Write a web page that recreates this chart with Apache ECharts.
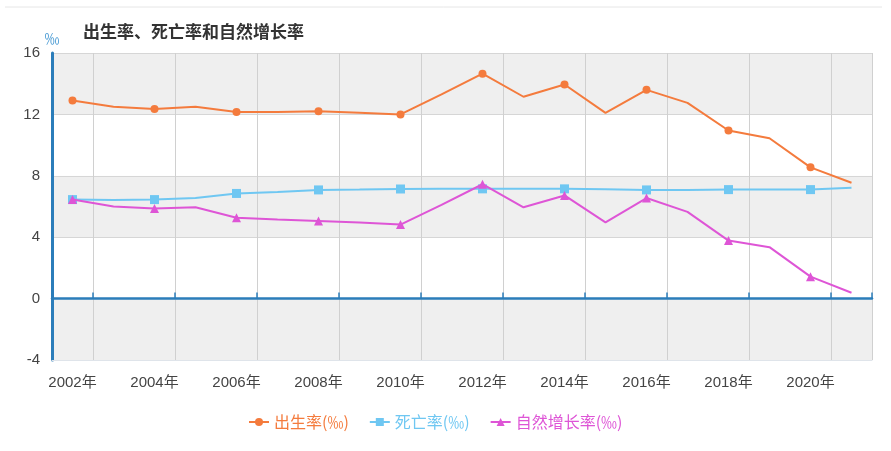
<!DOCTYPE html>
<html>
<head>
<meta charset="utf-8">
<script src="https://cdn.jsdelivr.net/npm/echarts@6/dist/echarts.min.js"></script>
<style>html,body{margin:0;padding:0;background:#fff}#c{width:891px;height:451px}</style>
</head>
<body>
<div id="c"></div>
<script>
const years = ['2002年','2003年','2004年','2005年','2006年','2007年','2008年','2009年','2010年','2011年','2012年','2013年','2014年','2015年','2016年','2017年','2018年','2019年','2020年','2021年'];
const birthRate = [12.9, 12.5, 12.35, 12.5, 12.15, 12.15, 12.2, 12.1, 12.0, 13.3, 14.65, 13.15, 13.95, 12.1, 13.6, 12.75, 10.95, 10.45, 8.55, 7.55];
const deathRate = [6.45, 6.42, 6.45, 6.55, 6.85, 6.95, 7.08, 7.1, 7.14, 7.15, 7.15, 7.15, 7.15, 7.12, 7.08, 7.08, 7.1, 7.1, 7.1, 7.22];
const naturalRate = [6.45, 6.0, 5.87, 5.95, 5.27, 5.15, 5.05, 4.95, 4.82, 6.1, 7.45, 5.95, 6.72, 4.97, 6.55, 5.65, 3.78, 3.35, 1.43, 0.38];
const seriesNames = ['出生率(‰)', '死亡率(‰)', '自然增长率(‰)'];
const yTicks = { min: -4, max: 16, interval: 4 };

const colors = ['#f47b3d', '#6fc7f2', '#de55d6'];
const symbols = ['circle', 'rect', 'triangle'];
const FONT = '"Noto Sans CJK SC", "Liberation Sans", sans-serif';
const LFONT = '"Liberation Sans", "Noto Sans CJK SC", sans-serif';

const chart = echarts.init(document.getElementById('c'), null, { renderer: 'canvas' });
const mk = (name, data, i) => ({
  name, type: 'line',
  data: data.map((v, k) => (k % 2 === 0 ? v : { value: v, symbol: 'none' })),
  xAxisIndex: 0,
  symbol: symbols[i],
  symbolSize: i === 0 ? 8 : 9,
  showAllSymbol: true,
  lineStyle: { color: colors[i], width: 2 },
  itemStyle: { color: colors[i] },
  z: 3 + (i === 1 ? 0 : i)
});

chart.setOption({
  animation: false,
  textStyle: { fontFamily: FONT },
  graphic: [
    { type: 'line', shape: { x1: 5, y1: 7, x2: 882, y2: 7 }, style: { stroke: '#e6e6e6', lineWidth: 1 } }
  ],
  title: {
    text: '出生率、死亡率和自然增长率',
    left: 78, top: 18,
    textStyle: { fontSize: 17, fontWeight: 'bold', color: '#333', fontFamily: FONT }
  },
  legend: {
    bottom: 16, left: 243,
    itemWidth: 20, itemHeight: 10, itemGap: 20,
    data: seriesNames.map((n, i) => ({ name: n, textStyle: { color: colors[i] } })),
    textStyle: { fontSize: 16, fontFamily: FONT }
  },
  grid: { left: 52, right: 19, top: 53, bottom: 91, containLabel: false },
  xAxis: [
    {
      type: 'category', data: years, boundaryGap: true, position: 'bottom',
      axisLine: { onZero: false, lineStyle: { color: '#dfe4ea', width: 1 } },
      axisTick: { show: false },
      axisLabel: { interval: (i) => i % 2 === 0, color: '#444', fontSize: 15, margin: 15, fontFamily: LFONT },
      splitLine: { show: true, interval: (i) => i % 2 === 1, lineStyle: { color: '#d0d0d0', width: 1 } }
    },
    {
      type: 'category', data: years, boundaryGap: true, position: 'top',
      axisLine: { onZero: true, lineStyle: { color: '#2b7dba', width: 2.5 } },
      axisTick: { show: true, inside: false, length: 6, interval: (i) => i % 2 === 1, lineStyle: { color: '#2b7dba', width: 1.5 } },
      axisLabel: { show: false },
      splitLine: { show: false }
    }
  ],
  yAxis: {
    type: 'value', min: yTicks.min, max: yTicks.max, interval: yTicks.interval,
    name: '‰', nameLocation: 'end', nameGap: 5,
    nameTextStyle: { color: '#4a9bd4', fontSize: 15, align: 'center', padding: [0, 0, 0, 0] },
    axisLine: { show: true, onZero: false, lineStyle: { color: '#2b7dba', width: 3 } },
    axisTick: { show: false },
    axisLabel: { color: '#444', fontSize: 15, margin: 12, fontFamily: LFONT },
    splitLine: { show: true, lineStyle: { color: '#d6d6d6', width: 1 } },
    splitArea: { show: true, areaStyle: { color: ['#efefef', '#ffffff'] } }
  },
  series: [
    mk(seriesNames[0], birthRate, 0),
    mk(seriesNames[1], deathRate, 1),
    mk(seriesNames[2], naturalRate, 2)
  ]
});
</script>
</body>
</html>
